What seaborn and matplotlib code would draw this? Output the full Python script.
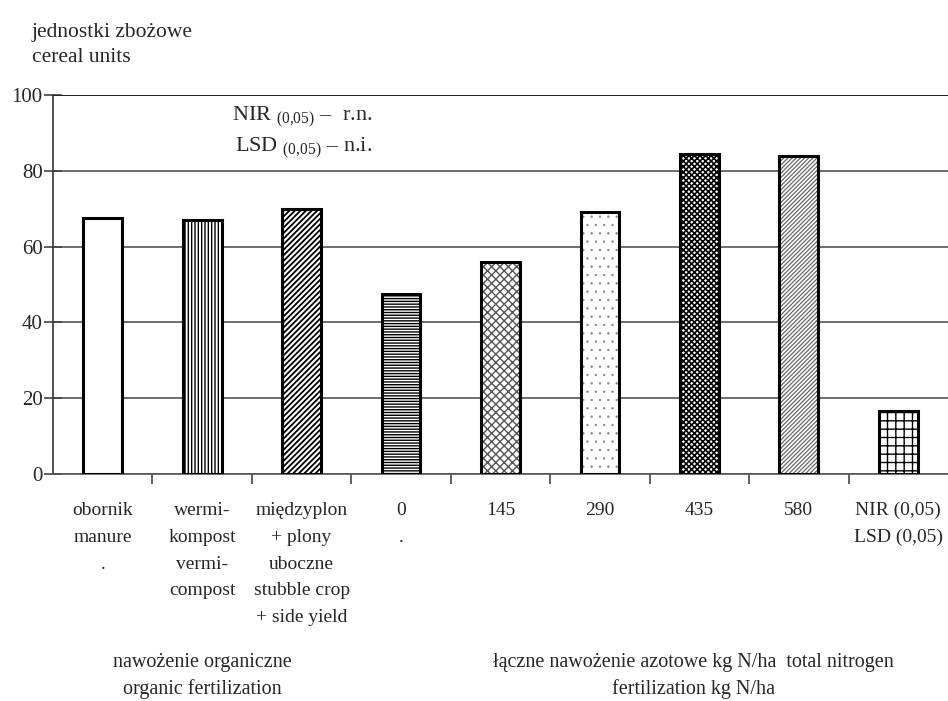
import matplotlib
matplotlib.use("Agg")
import matplotlib.pyplot as plt
import seaborn as sns
import pandas as pd

categories = [
    "obornik\nmanure\n.",
    "wermi-\nkompost\nvermi-\ncompost",
    "międzyplon\n+ plony\nuboczne\nstubble crop\n+ side yield",
    "0\n.",
    "145",
    "290",
    "435",
    "580",
    "NIR (0,05)\nLSD (0,05)",
]
values = [67.5, 67.0, 70.0, 47.5, 56.0, 69.0, 84.5, 84.0, 16.5]
y_ticks = [0, 20, 40, 60, 80, 100]

hatches = ["", "|||||", "//////", "------", "xxxx", "..", "XXXXXX", "////////", "++"]
hatch_colors = ["black", "black", "black", "black", "#555555", "#888888", "black", "#666666", "black"]
hatch_widths = [1.0, 1.0, 1.3, 1.0, 1.0, 0.5, 1.2, 0.9, 1.0]

sns.set_theme(style="white")
plt.rcParams["font.family"] = ["Liberation Serif", "DejaVu Serif"]
plt.rcParams["mathtext.fontset"] = "custom"
plt.rcParams["mathtext.rm"] = "Liberation Serif"
plt.rcParams["hatch.linewidth"] = 1.0

df = pd.DataFrame({"cat": categories, "val": values})

fig = plt.figure(figsize=(9.48, 7.01), dpi=100)
ax = fig.add_axes([53 / 948, 1 - 474 / 701, 895 / 948, 379 / 701])

# hatched fills
sns.barplot(data=df, x="cat", y="val", ax=ax, color="white", width=0.39,
            linewidth=1.0, errorbar=None, saturation=1)
for p, h, c, w in zip(ax.patches, hatches, hatch_colors, hatch_widths):
    p.set_facecolor("white")
    p.set_edgecolor(c)
    p.set_hatch(h)
    if hasattr(p, "set_hatch_linewidth"):
        p.set_hatch_linewidth(w)
    p.set_zorder(2)

# black outlines on top
sns.barplot(data=df, x="cat", y="val", ax=ax, fill=False, width=0.39,
            linewidth=2.2, edgecolor="black", errorbar=None)
for p in ax.patches[len(categories):]:
    p.set_zorder(3)

ax.set_ylim(0, 100)
ax.set_xlim(-0.5, len(categories) - 0.5)
ax.set_yticks(y_ticks)
ax.set_yticklabels([str(v) for v in y_ticks], fontsize=15)
ax.yaxis.grid(True, color="#555555", linewidth=1.2)
ax.set_axisbelow(True)
ax.axhline(100, color="#222222", linewidth=1.4, zorder=1)

ax.set_xlabel("")
ax.set_ylabel("")
ax.set_xticks(range(len(categories)))
ax.set_xticklabels(categories, fontsize=14, va="top")
for t in ax.get_xticklabels():
    t.set_linespacing(1.76)
ax.tick_params(axis="x", which="major", length=0, pad=20)
ax.set_xticks([i + 0.5 for i in range(len(categories) - 1)], minor=True)
ax.tick_params(axis="x", which="minor", length=7, direction="out",
               color="#444444", width=1.2, bottom=True)
ax.tick_params(axis="y", length=13, direction="inout", color="#444444",
               width=1.2, left=True, pad=1)

for s in ["top", "right"]:
    ax.spines[s].set_visible(False)
ax.spines["left"].set_color("#333333")
ax.spines["left"].set_linewidth(1.2)
ax.spines["bottom"].set_color("#555555")
ax.spines["bottom"].set_linewidth(1.2)

ax.text(2.71, 94.2, r"NIR $_{\mathrm{(0{,}05)}}$ –  r.n.", fontsize=16,
        ha="right", va="center")
ax.text(2.71, 85.8, r"LSD $_{\mathrm{(0{,}05)}}$ – n.i.", fontsize=16,
        ha="right", va="center")

fig.text(32 / 948, 1 - 32 / 701, "jednostki zbożowe", fontsize=15.5,
         ha="left", va="center")
fig.text(32 / 948, 1 - 58 / 701, "cereal units", fontsize=15.5,
         ha="left", va="center")

fig.text(202 / 948, 1 - 676 / 701,
         "nawożenie organiczne\norganic fertilization",
         fontsize=14.5, ha="center", va="center", linespacing=1.45)
fig.text(693 / 948, 1 - 676 / 701,
         "łączne nawożenie azotowe kg N/ha  total nitrogen\nfertilization kg N/ha",
         fontsize=14.5, ha="center", va="center", linespacing=1.45)

fig.savefig("out.png", dpi=100, facecolor="white")
